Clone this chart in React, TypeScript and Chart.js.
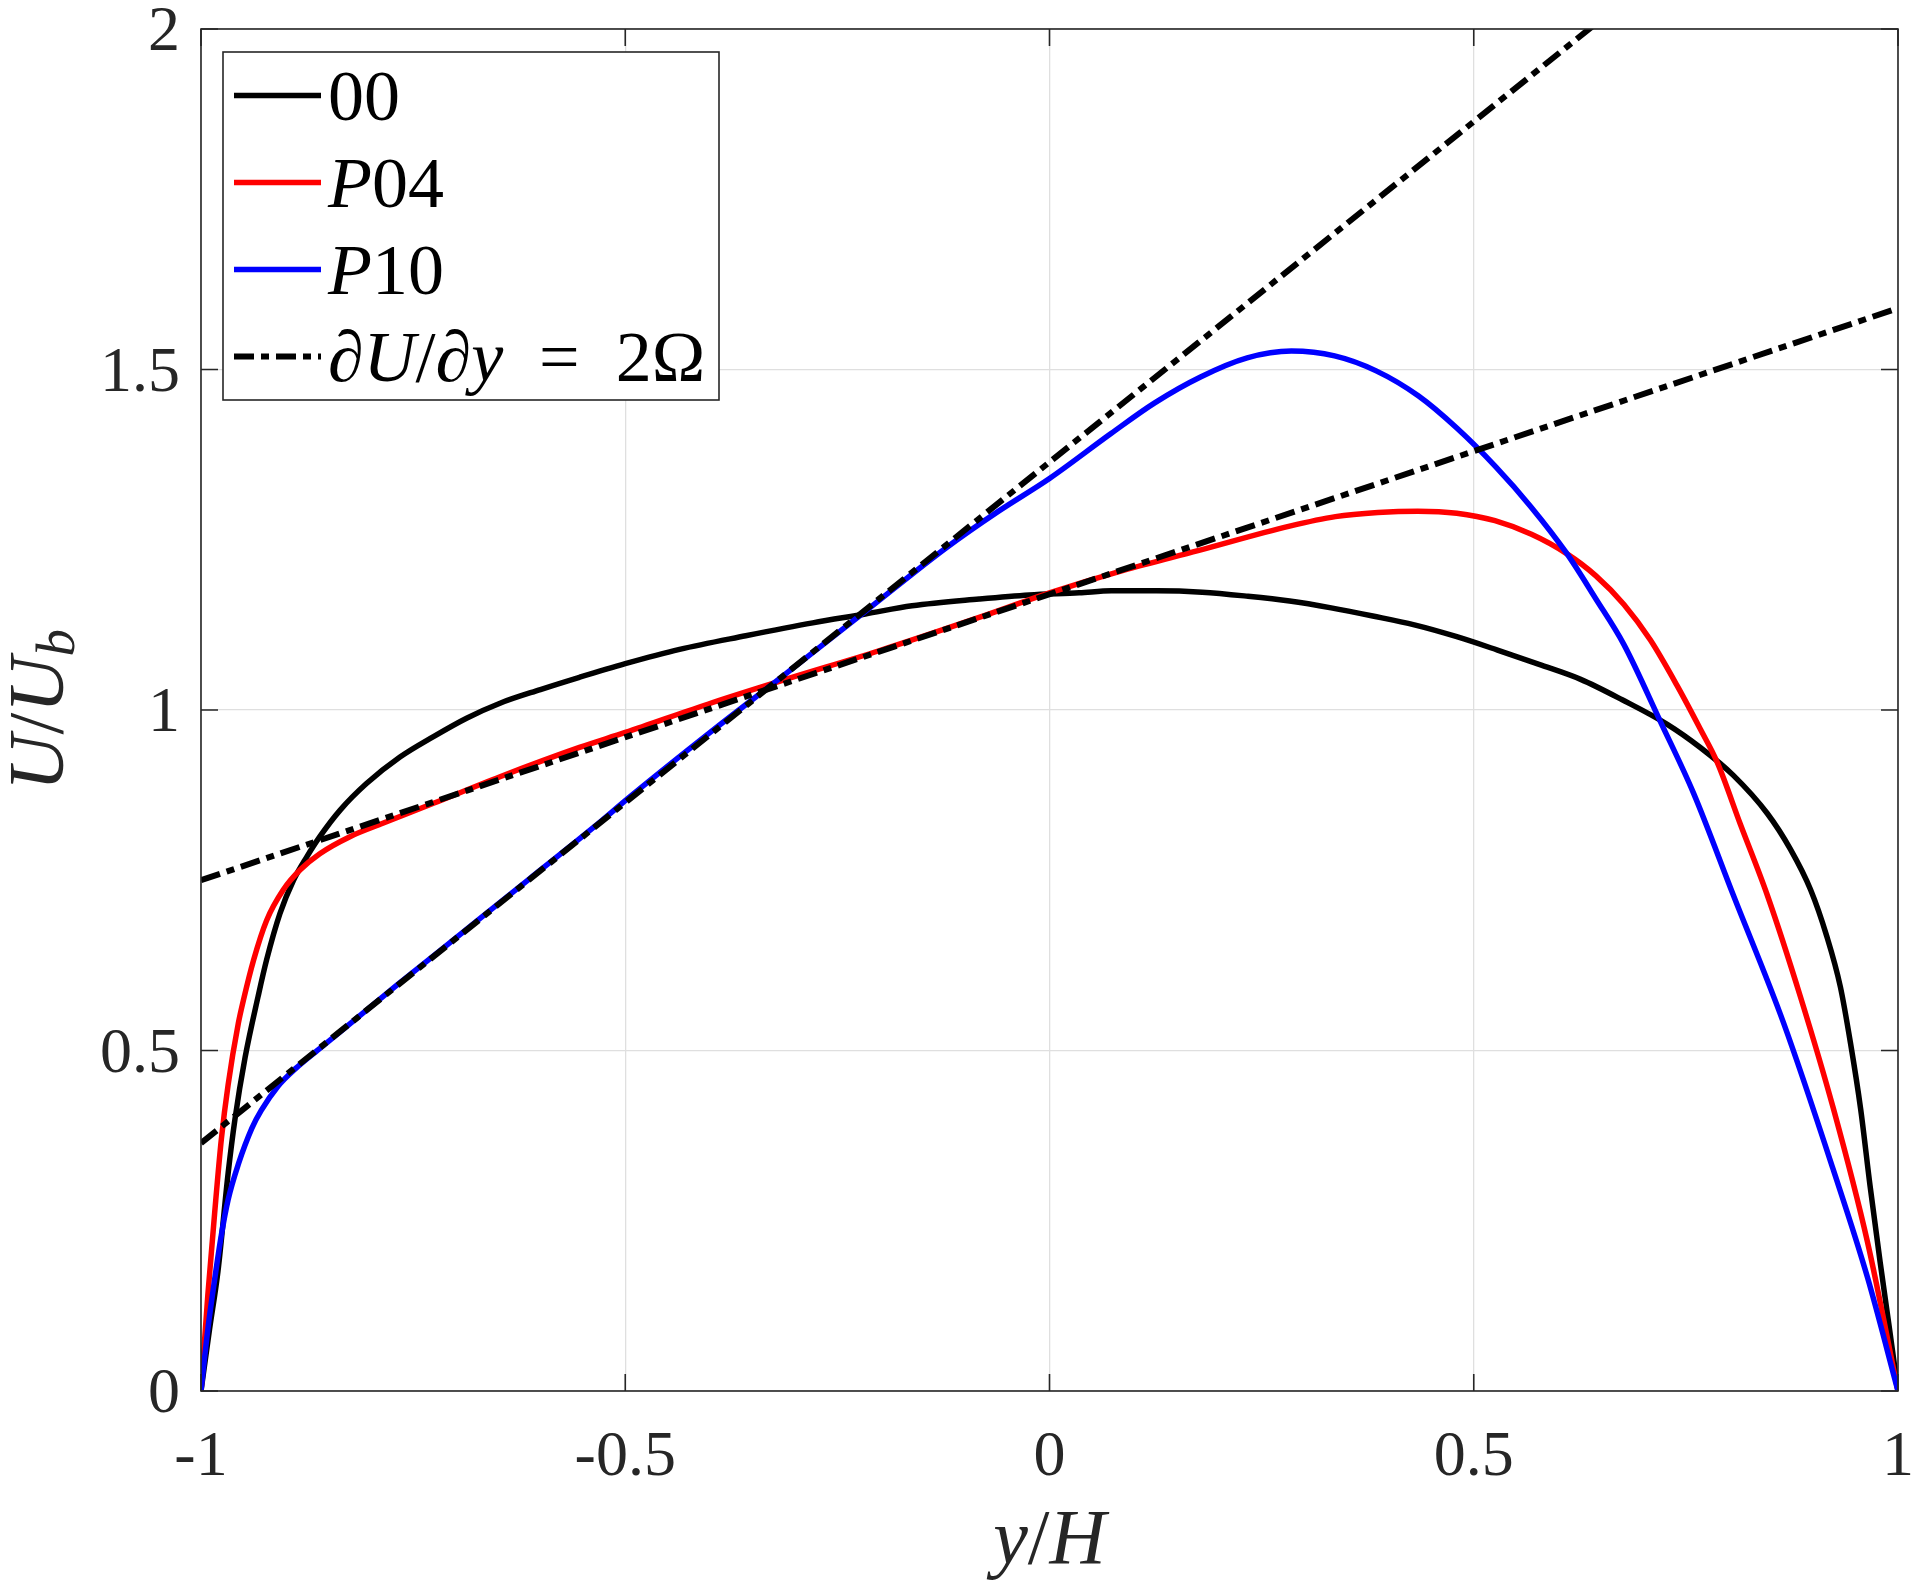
"use client"

import { useEffect, useRef } from "react"
import { Chart, registerables } from "chart.js"

Chart.register(...registerables)

const WIDTH = 1911
const HEIGHT = 1582
const AXIS_COLOR = "#262626"
const SERIF = '"Liberation Serif", "DejaVu Serif", serif'

// y/H positions and U/U_b values
const y00 = [-1, -0.99, -0.98, -0.968, -0.96, -0.948, -0.9326, -0.9227, -0.907, -0.891, -0.8755, -0.86, -0.836, -0.805, -0.7655, -0.726, -0.687, -0.6476, -0.6, -0.554, -0.5, -0.436, -0.358, -0.279, -0.217, -0.162, -0.083, -0.024, 0.035, 0.073, 0.126, 0.18, 0.234, 0.283, 0.332, 0.381, 0.43, 0.479, 0.528, 0.577, 0.626, 0.675, 0.728, 0.767, 0.806, 0.846, 0.873, 0.897, 0.916, 0.932, 0.944, 0.956, 0.967, 0.979, 0.989, 1]
const u00 = [0, 0.09, 0.176, 0.32, 0.399, 0.49, 0.58, 0.633, 0.701, 0.75, 0.784, 0.814, 0.853, 0.892, 0.931, 0.961, 0.988, 1.01, 1.03, 1.048, 1.068, 1.089, 1.109, 1.128, 1.141, 1.153, 1.163, 1.169, 1.172, 1.175, 1.175, 1.173, 1.167, 1.16, 1.15, 1.138, 1.125, 1.108, 1.088, 1.067, 1.045, 1.015, 0.979, 0.945, 0.904, 0.848, 0.796, 0.736, 0.668, 0.594, 0.511, 0.414, 0.302, 0.189, 0.1, 0]

const yP04 = [-1, -0.992, -0.984, -0.976, -0.968, -0.956, -0.95, -0.938, -0.9227, -0.903, -0.8834, -0.86, -0.8245, -0.785, -0.726, -0.6476, -0.554, -0.5, -0.397, -0.311, -0.201, -0.083, 0, 0.087, 0.175, 0.283, 0.337, 0.387, 0.434, 0.48, 0.525, 0.568, 0.609, 0.644, 0.677, 0.708, 0.74, 0.767, 0.787, 0.814, 0.846, 0.885, 0.924, 0.964, 1]
const uP04 = [0, 0.14, 0.26, 0.37, 0.45, 0.54, 0.574, 0.633, 0.691, 0.736, 0.765, 0.789, 0.814, 0.834, 0.863, 0.902, 0.945, 0.967, 1.011, 1.045, 1.087, 1.136, 1.172, 1.205, 1.234, 1.27, 1.284, 1.29, 1.292, 1.289, 1.278, 1.258, 1.23, 1.197, 1.155, 1.103, 1.035, 0.972, 0.923, 0.833, 0.728, 0.579, 0.414, 0.219, 0]

const yP10 = [-1, -0.992, -0.984, -0.976, -0.968, -0.956, -0.94, -0.929, -0.909, -0.889, -0.858, -0.811, -0.771, -0.693, -0.614, -0.536, -0.495, -0.397, -0.311, -0.217, -0.122, -0.06, 0, 0.0725, 0.124, 0.178, 0.233, 0.285, 0.336, 0.385, 0.435, 0.48, 0.526, 0.567, 0.609, 0.644, 0.677, 0.72, 0.759, 0.806, 0.865, 0.924, 0.964, 1]
const uP10 = [0, 0.09, 0.163, 0.229, 0.281, 0.333, 0.386, 0.412, 0.448, 0.473, 0.505, 0.553, 0.594, 0.672, 0.751, 0.829, 0.872, 0.97, 1.053, 1.145, 1.238, 1.292, 1.34, 1.406, 1.451, 1.489, 1.517, 1.527, 1.52, 1.498, 1.461, 1.414, 1.357, 1.299, 1.231, 1.163, 1.096, 0.983, 0.878, 0.728, 0.541, 0.324, 0.167, 0]

// dU/dy = 2*Omega reference lines, end points
const lineYH = [-1, 1]
const lineP04U = [0.75, 1.59]
const lineP10U = [0.364, 2.364]

const xTicks = [-1, -0.5, 0, 0.5, 1]
const yTicks = [0, 0.5, 1, 1.5, 2]
const xTickLabels = ["-1", "-0.5", "0", "0.5", "1"]
const yTickLabels = ["0", "0.5", "1", "1.5", "2"]

const legendLabels = ["00", "P04", "P10", "∂U/∂y = 2Ω"]
const legendColors = ["#000000", "#ff0000", "#0000ff", "#000000"]
const DASH_DOT = [20, 7, 8, 7]

function zip(xs: number[], ys: number[]) {
  return xs.map((x, i) => ({ x, y: ys[i] }))
}

// draw a small TeX-ish string: letters italic, digits/symbols upright, "_" makes a subscript
function drawMath(ctx: CanvasRenderingContext2D, text: string, x: number, y: number, size: number, align: "left" | "center") {
  const runs: { ch: string; italic: boolean; sub: boolean }[] = []
  for (let i = 0; i < text.length; i++) {
    let ch = text[i]
    let sub = false
    if (ch === "_") {
      sub = true
      ch = text[++i]
    }
    runs.push({ ch, italic: /[A-Za-z∂]/.test(ch), sub })
  }
  const fontFor = (r: { italic: boolean; sub: boolean }) =>
    `${r.italic ? "italic " : ""}${Math.round(r.sub ? size * 0.7 : size)}px ${SERIF}`
  const widths = runs.map((r) => {
    ctx.font = fontFor(r)
    return ctx.measureText(r.ch === " " ? "\u2002" : r.ch).width
  })
  const total = widths.reduce((a, b) => a + b, 0)
  let cx = align === "center" ? x - total / 2 : x
  ctx.textBaseline = "alphabetic"
  ctx.textAlign = "left"
  runs.forEach((r, i) => {
    ctx.font = fontFor(r)
    if (r.ch !== " ") ctx.fillText(r.ch, cx, y + (r.sub ? size * 0.16 : 0))
    cx += widths[i]
  })
}

const framePlugin = {
  id: "matlabFrame",
  afterDraw(chart: any) {
    const { ctx, chartArea: a, scales } = chart
    ctx.save()
    ctx.strokeStyle = AXIS_COLOR
    ctx.lineWidth = 1.6
    ctx.strokeRect(a.left, a.top, a.right - a.left, a.bottom - a.top)
    const tl = 17
    ctx.beginPath()
    xTicks.forEach((v) => {
      const px = scales.x.getPixelForValue(v)
      ctx.moveTo(px, a.bottom)
      ctx.lineTo(px, a.bottom - tl)
      ctx.moveTo(px, a.top)
      ctx.lineTo(px, a.top + tl)
    })
    yTicks.forEach((v) => {
      const py = scales.y.getPixelForValue(v)
      ctx.moveTo(a.left, py)
      ctx.lineTo(a.left + tl, py)
      ctx.moveTo(a.right, py)
      ctx.lineTo(a.right - tl, py)
    })
    ctx.stroke()

    // tick labels
    ctx.fillStyle = AXIS_COLOR
    ctx.font = `64px ${SERIF}`
    ctx.textBaseline = "alphabetic"
    ctx.textAlign = "center"
    xTicks.forEach((v, i) => {
      ctx.fillText(xTickLabels[i], scales.x.getPixelForValue(v), a.bottom + 84)
    })
    ctx.textAlign = "right"
    yTicks.forEach((v, i) => {
      ctx.fillText(yTickLabels[i], a.left - 21, scales.y.getPixelForValue(v) + 21)
    })

    // legend
    const lx = 223
    const ly = 52
    const lw = 496
    const lh = 348
    ctx.fillStyle = "#ffffff"
    ctx.fillRect(lx, ly, lw, lh)
    ctx.lineWidth = 1.6
    ctx.strokeStyle = AXIS_COLOR
    ctx.strokeRect(lx, ly, lw, lh)
    const rowH = lh / legendLabels.length
    legendLabels.forEach((label, i) => {
      const cy = ly + rowH * (i + 0.5)
      ctx.beginPath()
      ctx.strokeStyle = legendColors[i]
      ctx.lineWidth = i === 3 ? 6 : 5.5
      ctx.setLineDash(i === 3 ? DASH_DOT : [])
      ctx.moveTo(234, cy)
      ctx.lineTo(321, cy)
      ctx.stroke()
      ctx.setLineDash([])
      ctx.fillStyle = "#000000"
      drawMath(ctx, label, 328, cy + 24, 72, "left")
    })

    // axis titles
    ctx.fillStyle = AXIS_COLOR
    drawMath(ctx, "y/H", (a.left + a.right) / 2, 1563, 78, "center")
    ctx.save()
    ctx.translate(62, (a.top + a.bottom) / 2)
    ctx.rotate(-Math.PI / 2)
    drawMath(ctx, "U/U_b", 0, 0, 78, "center")
    ctx.restore()
    ctx.restore()
  },
}

export default function App() {
  const canvasRef = useRef<HTMLCanvasElement>(null)

  useEffect(() => {
    if (!canvasRef.current) return
    const curve = (label: string, xs: number[], ys: number[], color: string, order: number) => ({
      label,
      data: zip(xs, ys),
      borderColor: color,
      backgroundColor: color,
      borderWidth: 5.5,
      pointRadius: 0,
      cubicInterpolationMode: "monotone" as const,
      order,
    })
    const refLine = (label: string, ys: number[]) => ({
      label,
      data: zip(lineYH, ys),
      borderColor: "#000000",
      borderWidth: 6,
      borderDash: DASH_DOT,
      pointRadius: 0,
      tension: 0,
      order: 0,
    })

    const chart = new Chart(canvasRef.current, {
      type: "line",
      data: {
        datasets: [
          curve("00", y00, u00, "#000000", 3),
          curve("P04", yP04, uP04, "#ff0000", 2),
          curve("P10", yP10, uP10, "#0000ff", 1),
          refLine("2Ω P04", lineP04U),
          refLine("2Ω P10", lineP10U),
        ],
      },
      options: {
        responsive: true,
        maintainAspectRatio: false,
        animation: false,
        devicePixelRatio: 1,
        layout: { padding: { top: 29, right: 13, left: 0, bottom: 0 } },
        plugins: { legend: { display: false }, tooltip: { enabled: false } },
        scales: {
          x: {
            type: "linear",
            min: -1,
            max: 1,
            ticks: { stepSize: 0.5, display: false },
            grid: { color: "#dfdfdf", lineWidth: 1.3, drawTicks: false },
            border: { display: false },
            afterFit: (s: any) => {
              s.height = 191
            },
          },
          y: {
            type: "linear",
            min: 0,
            max: 2,
            ticks: { stepSize: 0.5, display: false },
            grid: { color: "#dfdfdf", lineWidth: 1.3, drawTicks: false },
            border: { display: false },
            afterFit: (s: any) => {
              s.width = 201
            },
          },
        },
      },
      plugins: [framePlugin],
    })

    return () => chart.destroy()
  }, [])

  return (
    <div style={{ position: "fixed", left: 0, top: 0, width: WIDTH, height: HEIGHT, background: "#ffffff" }}>
      <canvas ref={canvasRef} />
    </div>
  )
}
